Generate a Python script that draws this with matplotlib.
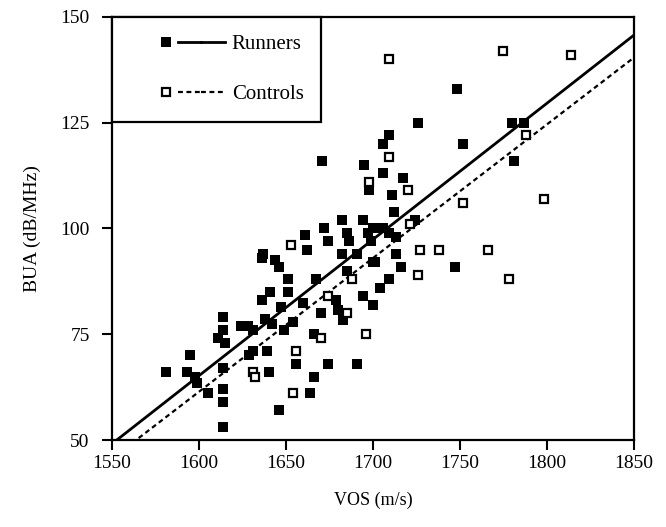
import matplotlib
matplotlib.use('Agg')
import matplotlib.pyplot as plt
from matplotlib.lines import Line2D
from matplotlib.legend_handler import HandlerTuple
import numpy as np

plt.rcParams['font.family'] = ['Liberation Serif', 'DejaVu Serif']

# ── DONNEES ───────────────────────────────────────────────
# Runners (carres pleins)
runners_vos = [1581, 1593, 1595, 1598, 1599, 1605, 1611, 1614, 1614, 1615,
               1614, 1614, 1614, 1614, 1624, 1628, 1631, 1629, 1631, 1636,
               1641, 1636, 1637, 1644, 1646, 1640, 1646, 1651, 1651, 1647,
               1638, 1642, 1649, 1654, 1639, 1661, 1662, 1672, 1674, 1682,
               1667, 1670, 1660, 1679, 1680, 1683, 1666, 1656, 1674, 1691,
               1666, 1664, 1685, 1694, 1700, 1700, 1691, 1685, 1686, 1697,
               1699, 1713, 1701, 1716, 1709, 1704, 1671, 1695, 1698, 1706,
               1706, 1709, 1726, 1717, 1711, 1712, 1724, 1682, 1694, 1700,
               1706, 1709, 1748, 1752, 1780, 1787, 1781, 1747, 1713]
runners_bua = [66, 66, 70, 65, 63.5, 61, 74, 79, 76, 73,
               67, 62, 59, 53, 77, 77, 76, 70, 71, 83,
               85, 93, 94, 92.5, 91, 66, 57, 88, 85, 81.5,
               78.5, 77.5, 76, 78, 71, 98.5, 95, 100, 97, 94,
               88, 80, 82.5, 83, 80.7, 78.4, 75, 68, 68, 68,
               65, 61, 90, 84, 82, 92, 94, 99, 97, 99,
               97, 98, 92, 91, 88, 86, 116, 115, 109, 113,
               120, 122, 125, 112, 108, 104, 102, 102, 102, 100,
               100, 99, 133, 120, 125, 125, 116, 91, 94]

# Controls (carres vides)
controls_vos = [1709, 1775, 1814, 1709, 1698, 1720, 1788, 1721, 1752, 1798,
                1653, 1727, 1738, 1766, 1726, 1778, 1688, 1674, 1685, 1670,
                1696, 1656, 1631, 1632, 1654]
controls_bua = [140, 142, 141, 117, 111, 109, 122, 101, 106, 107,
                96, 95, 95, 95, 89, 88, 88, 84, 80, 74,
                75, 71, 66, 65, 61]

# Droites de regression (pente, ordonnee a l'origine)
runners_fit = (0.322, -450.0)
controls_fit = (0.316, -444.2)

x_ticks = [1550, 1600, 1650, 1700, 1750, 1800, 1850]
y_ticks = [50, 75, 100, 125, 150]

# ── GRAPHIQUE ─────────────────────────────────────────────
fig = plt.figure(figsize=(6.66, 5.27), dpi=100)
ax = fig.add_axes([0.168, 0.165, 0.784, 0.803])

xx = np.array([x_ticks[0], x_ticks[-1]])
ax.plot(xx, runners_fit[0] * xx + runners_fit[1], color='black', lw=2.0,
        solid_capstyle='butt', zorder=2)
ax.plot(xx, controls_fit[0] * xx + controls_fit[1], color='black', lw=1.6,
        linestyle=(0, (2.2, 1.6)), zorder=2)

ax.plot(runners_vos, runners_bua, 's', color='black', markersize=6.8,
        markeredgewidth=0, zorder=3)
ax.plot(controls_vos, controls_bua, 's', markerfacecolor='white',
        markeredgecolor='black', markersize=5.8, markeredgewidth=1.6, zorder=4)

ax.set_xlim(x_ticks[0], x_ticks[-1])
ax.set_ylim(y_ticks[0], y_ticks[-1])
ax.set_xticks(x_ticks)
ax.set_yticks(y_ticks)
ax.tick_params(direction='out', length=7, width=1.5, labelsize=14,
               top=False, right=False)
ax.tick_params(axis='x', pad=4)
ax.tick_params(axis='y', pad=9)
for s in ax.spines.values():
    s.set_linewidth(1.6)

ax.set_xlabel("VOS (m/s)", fontsize=13, labelpad=14)
ax.set_ylabel("BUA (dB/MHz)", fontsize=14, labelpad=14)

# Legende : carre a gauche puis trait
blank = Line2D([], [], linestyle='none')
m_run = Line2D([], [], linestyle='none', marker='s', color='black',
               markersize=6.8, markeredgewidth=0)
l_run = Line2D([], [], color='black', lw=2.0)
m_ctl = Line2D([], [], linestyle='none', marker='s', markerfacecolor='white',
               markeredgecolor='black', markersize=5.8, markeredgewidth=1.6)
l_ctl = Line2D([], [], color='black', lw=1.6, linestyle=(0, (2.2, 1.6)))

leg = ax.legend([(blank, m_run, l_run, l_run), (blank, m_ctl, l_ctl, l_ctl)],
                ['Runners', 'Controls'],
                handler_map={tuple: HandlerTuple(ndivide=None, pad=0)},
                loc='upper left', borderaxespad=0, fontsize=15,
                handlelength=4.6, handletextpad=0.3, borderpad=0.85,
                labelspacing=1.45, fancybox=False, framealpha=1,
                edgecolor='black')
leg.get_frame().set_linewidth(1.6)

plt.savefig('out.png', dpi=100)
plt.close()
